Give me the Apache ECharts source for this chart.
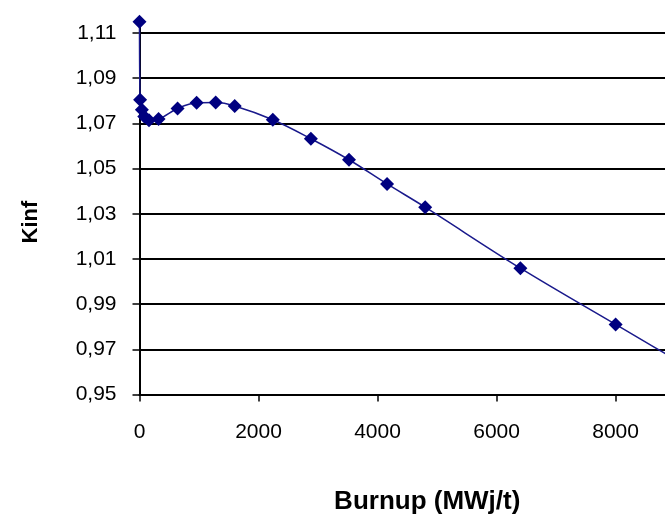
<!DOCTYPE html>
<html>
<head>
<meta charset="utf-8">
<script src="https://cdn.jsdelivr.net/npm/echarts@6/dist/echarts.min.js"></script>
<style>html,body{margin:0;padding:0;background:#fff;}#c{width:665px;height:520px;}</style>
</head>
<body>
<div id="c"></div>
<script>
// Burnup (MWj/t) values
const burnup = [0, 10, 40, 80, 160, 320, 640, 960, 1280, 1600, 2240, 2880, 3520, 4160, 4800, 6400, 8000, 9600];
// Kinf values
const kinf = [1.115, 1.0805, 1.0760, 1.0730, 1.0714, 1.0719, 1.0766, 1.0791, 1.0792, 1.0777, 1.0716, 1.0632, 1.0539, 1.0432, 1.0329, 1.0059, 0.9810, 0.9563];
const xTicks = [0, 2000, 4000, 6000, 8000];
const yTicks = [0.95, 0.97, 0.99, 1.01, 1.03, 1.05, 1.07, 1.09, 1.11];
const xTitle = 'Burnup (MWj/t)';
const yTitle = 'Kinf';

const chart = echarts.init(document.getElementById('c'), null, {renderer: 'canvas'});
const font = '"Liberation Sans", Arial, sans-serif';
chart.setOption({
  animation: false,
  backgroundColor: '#fff',
  grid: {left: 139.5, top: 21.7, width: 525.5, height: 372.8, containLabel: false},
  xAxis: {
    type: 'value', min: 0, max: 8830, interval: 2000,
    name: xTitle, nameLocation: 'middle', nameGap: 94,
    nameTextStyle: {fontFamily: font, fontSize: 26, fontWeight: 'bold', color: '#000', padding: [0, 0, 0, 50]},
    axisLine: {show: true, onZero: false, lineStyle: {color: '#000', width: 2}},
    axisTick: {show: true, length: 7, lineStyle: {color: '#000', width: 1.5}},
    axisLabel: {fontFamily: font, fontSize: 21, color: '#000', margin: 27, showMaxLabel: false,
      formatter: v => xTicks.indexOf(v) >= 0 ? String(v) : ''},
    splitLine: {show: false}
  },
  yAxis: {
    type: 'value', min: 0.95, max: 1.115, interval: 0.02,
    name: yTitle, nameLocation: 'middle', nameGap: 98, nameRotate: 90,
    nameTextStyle: {fontFamily: font, fontSize: 22, fontWeight: 'bold', color: '#000', padding: [0, 28, 0, 0]},
    axisLine: {show: true, onZero: false, lineStyle: {color: '#000', width: 2}},
    axisTick: {show: true, length: 7, lineStyle: {color: '#000', width: 1.5}},
    axisLabel: {fontFamily: font, fontSize: 21, color: '#000', margin: 23, showMaxLabel: false,
      formatter: v => {
        const r = Math.round(v * 100) / 100;
        return yTicks.some(t => Math.abs(t - r) < 1e-9) && Math.abs(v - r) < 1e-6 ? r.toFixed(2).replace('.', ',') : '';
      }},
    splitLine: {show: true, showMaxLine: false, lineStyle: {color: '#000', width: 2}}
  },
  series: [{
    type: 'line',
    data: burnup.map((x, i) => [x, kinf[i]]),
    smooth: 0.35,
    symbol: 'diamond', symbolSize: 14,
    itemStyle: {color: '#000080'},
    lineStyle: {color: '#1a1a8c', width: 1.5},
    clip: true
  }]
});
</script>
</body>
</html>
